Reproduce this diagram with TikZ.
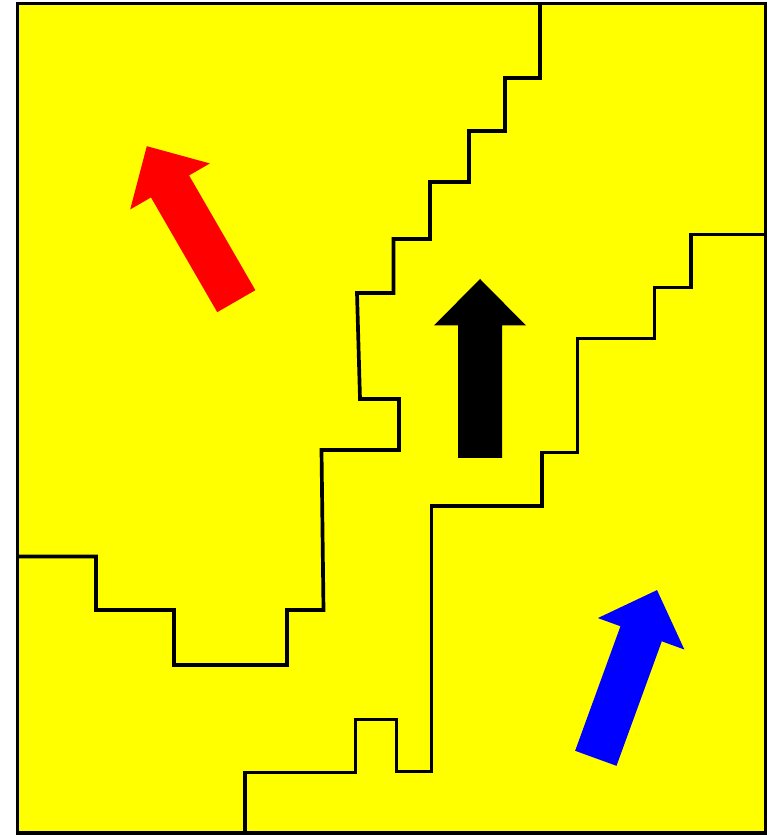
\documentclass[tikz,border=0pt]{standalone}
\usepackage{tikz}
\definecolor{regionyellow}{RGB}{255,255,0}
\definecolor{arrowred}{RGB}{255,0,0}
\definecolor{arrowblue}{RGB}{0,0,255}

\begin{document}
\begin{tikzpicture}[
    x=0.02cm, y=0.02cm,
    border/.style={draw=black, line width=2.1pt},
    boundary/.style={draw=black, line width=2.1pt},
    bigarrow/.pic={\fill[#1] (-22,0) -- (22,0) -- (22,132.5) -- (46,132.5) -- (0,179) -- (-46,132.5) -- (-22,132.5) -- cycle;}
]
    \useasboundingbox (0,0) rectangle (774,835);

    % Region
    \filldraw[border, fill=regionyellow] (17.5,2) rectangle (765.5,831.5);

    % Upper boundary
    \draw[boundary] (540,831.5) -- (540,757) -- (505,757) -- (505,704) -- (469,704) -- (469,653)
        -- (430,653) -- (430,596) -- (393.5,596) -- (393.5,542) -- (357,542) -- (360,436)
        -- (399,436) -- (399,385) -- (321.5,385) -- (323.5,225) -- (287,225) -- (287,170)
        -- (174,170) -- (174,225) -- (96,225) -- (96,278.5) -- (17.5,278.5);

    % Lower boundary
    \draw[boundary] (765.5,600.5) -- (691,600.5) -- (691,547.5) -- (654.5,547.5) -- (654.5,496.5)
        -- (577.5,496.5) -- (577.5,382.5) -- (542,382.5) -- (542,329.3) -- (431.5,329.3)
        -- (431.5,63.5) -- (396.5,63.5) -- (396.5,115.5) -- (355.5,115.5) -- (355.5,62.5)
        -- (245,62.5) -- (245,2);

    % Arrows
    \pic[rotate=30] at (236.3,533.8) {bigarrow=arrowred};
    \pic at (480,377) {bigarrow=black};
    \pic[rotate=-20] at (595.8,76.7) {bigarrow=arrowblue};

\end{tikzpicture}
\end{document}
